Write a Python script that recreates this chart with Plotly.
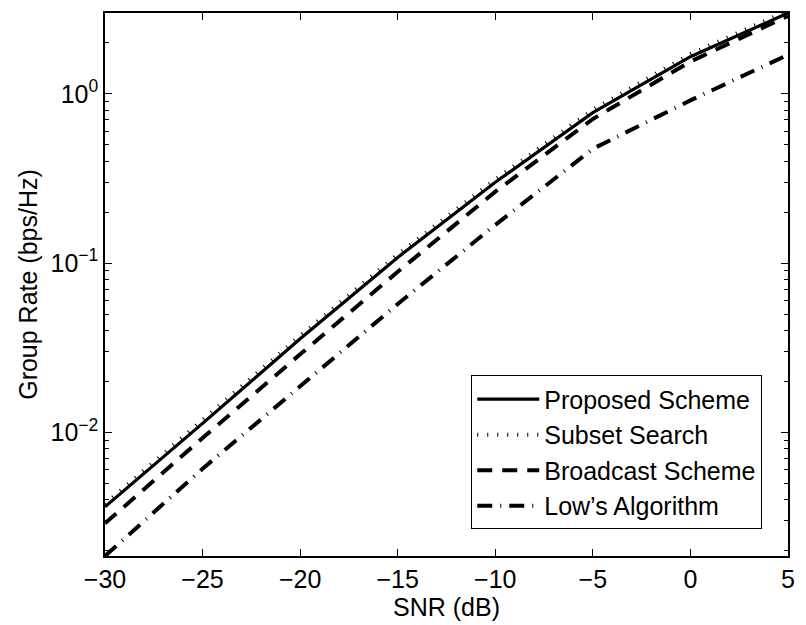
import plotly.graph_objects as go
import math

snr_db = [-30, -25, -20, -15, -10, -5, 0, 5]
proposed = [0.00363, 0.0113, 0.0357, 0.108, 0.300, 0.774, 1.655, 3.00]
subset = [0.00377, 0.0118, 0.0372, 0.1125, 0.312, 0.805, 1.72, 3.10]
broadcast = [0.0029, 0.00926, 0.0289, 0.0888, 0.264, 0.71, 1.55, 2.88]
lows = [0.00186, 0.0061, 0.0187, 0.0573, 0.168, 0.473, 0.914, 1.70]

names = ["Proposed Scheme", "Subset Search", "Broadcast Scheme", "Low\u2019s Algorithm"]
x_ticks = [-30, -25, -20, -15, -10, -5, 0, 5]
y_ticks = [0.01, 0.1, 1]
y_tick_text = ["10<sup>\u22122</sup>", "10<sup>\u22121</sup>", "10<sup>0</sup>"]
y_min, y_max = 0.00186, 3.0

FONT = "Liberation Sans, Arial, Helvetica, sans-serif"
FS = 25

fig = go.Figure()
styles = [
    dict(width=3.2, dash="solid"),
    dict(width=4, dash="1px,9px"),
    dict(width=4, dash="15px,10px"),
    dict(width=4, dash="15px,8px,1px,8px"),
]
for i, (name, ys) in enumerate(zip(names, [proposed, subset, broadcast, lows])):
    fig.add_trace(go.Scatter(
        x=snr_db, y=ys, mode="lines", name=name,
        line=dict(color="black", **styles[i]),
        legendgroup=f"g{i}",
    ))

minor_vals = []
for e in range(-3, 1):
    for m in range(2, 10):
        v = m * 10 ** e
        if y_min <= v <= y_max:
            minor_vals.append(v)

axis_common = dict(
    showline=True, linecolor="black", linewidth=1.5, mirror="ticks",
    ticks="inside", tickcolor="black", ticklen=7, tickwidth=1,
    showgrid=False, zeroline=False,
    tickfont=dict(family=FONT, size=FS, color="black"),
)

fig.update_layout(
    width=806, height=625,
    margin=dict(l=105, r=11, t=11, b=67),
    plot_bgcolor="white", paper_bgcolor="white",
    font=dict(family=FONT, size=FS, color="black"),
    showlegend=True,
    legend=dict(
        x=0.9623, y=0.049, xanchor="right", yanchor="bottom",
        bordercolor="black", borderwidth=1, bgcolor="white",
        font=dict(family=FONT, size=FS, color="black"),
        tracegroupgap=0, traceorder="grouped", itemwidth=62,
        entrywidth=300, entrywidthmode="pixels",
    ),
    xaxis=dict(
        range=[-30, 5], tickvals=x_ticks,
        title=dict(text="SNR (dB)", standoff=4, font=dict(family=FONT, size=FS)),
        **axis_common,
    ),
    yaxis=dict(
        type="log", range=[math.log10(y_min), math.log10(y_max)],
        tickvals=y_ticks, ticktext=y_tick_text,
        minor=dict(tickvals=minor_vals, ticks="inside", ticklen=4, tickcolor="black", showgrid=False),
        title=dict(text="Group Rate (bps/Hz)", standoff=6, font=dict(family=FONT, size=FS)),
        **axis_common,
    ),
)

fig.write_html("out.html")
